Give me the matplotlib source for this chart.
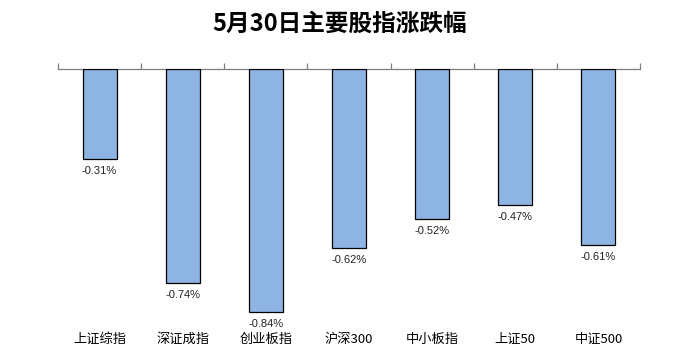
import numpy as np
import matplotlib.pyplot as plt

plt.rcParams['font.family'] = ['Noto Sans CJK SC', 'DejaVu Sans']

categories = ["上证综指", "深证成指", "创业板指", "沪深300", "中小板指", "上证50", "中证500"]
values = [-0.31, -0.74, -0.84, -0.62, -0.52, -0.47, -0.61]
title = "5月30日主要股指涨跌幅"

fig = plt.figure(figsize=(6.8, 3.58), dpi=100)
ax = fig.add_axes([58/680, 1-329/358, 582/680, 260/358])

x = np.arange(len(categories))
ax.bar(x, values, width=0.41, color="#8DB4E2", edgecolor="black", linewidth=0.9, zorder=3)

for xi, v in zip(x, values):
    ax.annotate("{:.2f}%".format(v), (xi, v), xytext=(0, -5), textcoords="offset points",
                ha="center", va="top", fontsize=8, family=["Liberation Sans", "DejaVu Sans"],
                color="#222222")

ax.set_xlim(-0.5, len(categories) - 0.5)
ax.set_ylim(-0.9, 0)
for s in ["left", "right", "bottom"]:
    ax.spines[s].set_visible(False)
ax.spines["top"].set_color("#7f7f7f")
ax.spines["top"].set_linewidth(0.9)
ax.set_yticks([])

ax.set_xticks(x)
ax.set_xticklabels(categories, fontsize=9.5)
ax.set_xticks(np.arange(len(categories) + 1) - 0.5, minor=True)
ax.tick_params(axis="x", which="major", length=0, pad=3)
ax.tick_params(axis="x", which="minor", bottom=False, top=True, direction="out",
               length=4, color="#7f7f7f", width=0.9)

fig.text(0.5, 1-24/358, title, ha="center", va="center", fontsize=17, fontweight="bold")

fig.savefig("out.png", dpi=100)
